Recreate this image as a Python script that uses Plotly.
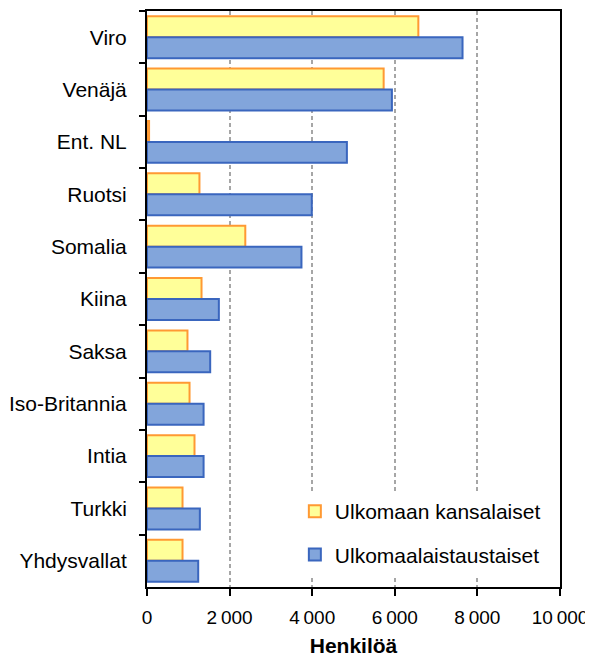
import plotly.graph_objects as go

categories = ["Viro", "Venäjä", "Ent. NL", "Ruotsi", "Somalia", "Kiina", "Saksa",
              "Iso-Britannia", "Intia", "Turkki", "Yhdysvallat"]
kansalaiset = [6570, 5730, 50, 1270, 2380, 1320, 980, 1030, 1150, 860, 860]
taustaiset = [7640, 5930, 4840, 3990, 3740, 1740, 1530, 1370, 1370, 1280, 1240]
x_ticks = [0, 2000, 4000, 6000, 8000, 10000]

FONT = "Liberation Sans, Arial, sans-serif"

fig = go.Figure()
fig.add_trace(go.Bar(
    y=categories, x=kansalaiset, orientation="h", name="Ulkomaan kansalaiset",
    marker=dict(color="#FFFF99", line=dict(color="#FF9933", width=2)),
    legendgroup="a",
))
fig.add_trace(go.Bar(
    y=categories, x=taustaiset, orientation="h", name="Ulkomaalaistaustaiset",
    marker=dict(color="#82A5DB", line=dict(color="#3A66BE", width=2)),
    legendgroup="b",
))

fig.update_layout(
    width=585, height=651,
    margin=dict(l=139, r=33, t=3, b=72, autoexpand=False),
    paper_bgcolor="white", plot_bgcolor="white",
    barmode="group", bargap=0.2, bargroupgap=0,
    separators=",\u2009",
    font=dict(family=FONT, size=21, color="black"),
    showlegend=True,
    legend=dict(
        x=0.358, y=0.1665, xanchor="left", yanchor="top",
        bgcolor="white", borderwidth=0,
        font=dict(size=21, family=FONT), tracegroupgap=13,
        itemwidth=30,
    ),
    xaxis=dict(
        range=[0, 10000], tickvals=x_ticks, tickformat=",",
        showgrid=True, gridcolor="#A6A6A6", griddash="4px,3px", gridwidth=2,
        showline=True, linecolor="black", linewidth=2, mirror=True,
        ticks="outside", ticklen=7, tickwidth=2, tickcolor="black",
        zeroline=False, automargin=False, ticklabelstandoff=5,
        title=dict(text="<b>Henkilöä</b>", font=dict(size=21, family=FONT), standoff=12),
        tickfont=dict(size=19),
    ),
    yaxis=dict(
        autorange="reversed", type="category",
        showline=True, linecolor="black", linewidth=2, mirror=True,
        ticks="outside", ticklen=6, tickwidth=2, tickcolor="black",
        tickson="boundaries", showgrid=False, automargin=False,
        tickfont=dict(size=21), ticklabelstandoff=14,
    ),
)

fig.write_html("out.html")
